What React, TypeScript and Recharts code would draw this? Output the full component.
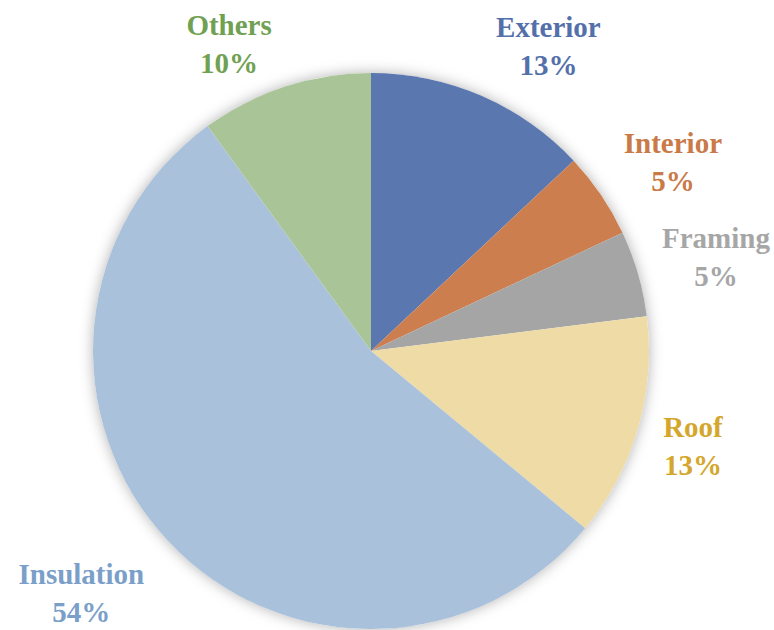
import { Cell, Pie, PieChart } from "recharts";

const categories = ["Exterior", "Interior", "Framing", "Roof", "Insulation", "Others"];
const shares = [13, 5, 5, 13, 54, 10];

const sliceColors = ["#5A77AF", "#CC7E4E", "#A5A5A5", "#EEDBA6", "#AAC1DB", "#A9C597"];
const labelColors = ["#5470AA", "#C97A48", "#A6A6A6", "#D4A72C", "#7B9FC9", "#70A152"];
// label nudges from the slice's outer mid point (dx, dy of first baseline)
const labelOffsets: [number, number][] = [
  [67, -59],
  [72, -42],
  [78, -25],
  [55, 8],
  [-87, 43],
  [-56, -52],
];

const data = categories.map((name, i) => ({ name, value: shares[i] }));
const RAD = Math.PI / 180;
const FONT = "'Liberation Serif', 'Times New Roman', serif";

function renderLabel(props: any) {
  const { cx, cy, midAngle, outerRadius, index, name, value } = props;
  const px = cx + outerRadius * Math.cos(-midAngle * RAD);
  const py = cy + outerRadius * Math.sin(-midAngle * RAD);
  const [dx, dy] = labelOffsets[index];
  const x = px + dx;
  const y = py + dy;
  return (
    <text
      x={x}
      y={y}
      textAnchor="middle"
      fill={labelColors[index]}
      fontFamily={FONT}
      fontWeight="bold"
      fontSize={29}
    >
      <tspan x={x} y={y}>{name}</tspan>
      <tspan x={x} y={y + 38}>{`${value}%`}</tspan>
    </text>
  );
}

export default function App() {
  return (
    <div style={{ width: 774, height: 630, background: "#fff" }}>
      <style>{"body{margin:0}"}</style>
      <PieChart width={774} height={630} margin={{ top: 0, right: 0, bottom: 0, left: 0 }}>
        <Pie
          data={[{ name: "shadow", value: 1 }]}
          dataKey="value"
          cx={371}
          cy={351}
          outerRadius={278}
          startAngle={90}
          endAngle={-270}
          stroke="none"
          isAnimationActive={false}
          label={false}
          labelLine={false}
        >
          <Cell fill="#ffffff" style={{ filter: "drop-shadow(0px 0px 7px rgba(0,0,0,0.3))" }} />
        </Pie>
        <Pie
          data={data}
          dataKey="value"
          nameKey="name"
          cx={371}
          cy={351}
          outerRadius={278}
          startAngle={90}
          endAngle={-270}
          stroke="none"
          isAnimationActive={false}
          labelLine={false}
          label={renderLabel}
        >
          {data.map((d, i) => (
            <Cell key={d.name} fill={sliceColors[i]} />
          ))}
        </Pie>
      </PieChart>
    </div>
  );
}
